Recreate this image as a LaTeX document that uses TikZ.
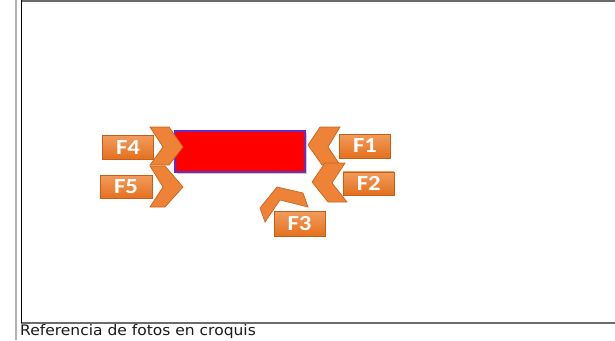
\documentclass[tikz,border=0pt]{standalone}
\usepackage{fontspec}
\setmainfont{DejaVu Sans}
\newfontfamily\lblfont{Carlito}
\definecolor{chevorange}{HTML}{EE8236}
\definecolor{chevedge}{HTML}{C8651E}
\definecolor{lbltop}{HTML}{F29B5C}
\definecolor{lblbot}{HTML}{E4701E}
\definecolor{rectedge}{HTML}{6A2BC0}
\begin{document}
\begin{tikzpicture}[x=1pt,y=-1pt,
  chev/.style={fill=chevorange, draw=chevedge, line width=0.7pt, line join=miter},
  lbl/.style={shading=axis, top color=lbltop, bottom color=lblbot, draw=lblbot!85!black, line width=0.3pt,
    minimum width=51pt, minimum height=24pt, inner sep=0pt, text=white,
    font=\lblfont\bfseries\fontsize{21.5}{21.5}\selectfont},
  frameline/.style={line width=2pt, draw=gray!85!black},
]
\useasboundingbox (0,0) rectangle (615,340);
% page margins / frame
\draw[line width=2pt, draw=black!30] (16,0) -- (16,340);
\draw[frameline] (21,1) -- (615,1);
\draw[frameline] (21,323) -- (615,323);
\draw[line width=1.3pt, black] (21.5,0) -- (21.5,323);
% target rectangle
\fill[black!20] (177,133) rectangle (307,174);
\node[draw=rectedge, line width=1.1pt, fill=red, minimum width=130pt, minimum height=41pt, inner sep=0pt] (target) at (240,151.5) {};
% left labels
\node[lbl] (f4) at (128,147.5) {\scalebox{1.15}[1]{F4}};
\node[lbl, minimum width=52pt, minimum height=23pt] (f5) at (126,187) {\scalebox{1.15}[1]{F5}};
% left chevrons
\draw[chev] (150,127) -- (169,127) -- (183,147) -- (169,165) -- (150,165) -- (163,147) -- cycle;
\draw[chev] (150,166) -- (165,166) -- (183,187) -- (165,207) -- (150,207) -- (163,187) -- cycle;
% right chevrons
\draw[chev] (320,127) -- (340,127) -- (328,147) -- (340,165) -- (322,165) -- (308,145) -- cycle;
\draw[chev] (325,163) -- (345,163) -- (332,183) -- (347,202) -- (328,202) -- (312,182) -- cycle;
\draw[chev] (277,187) -- (303,193) -- (308,207) -- (280,200) -- (265,222) -- (260,208) -- cycle;
% right labels
\node[lbl] (f1) at (365,146) {\scalebox{1.15}[1]{F1}};
\node[lbl, minimum height=23pt] (f2) at (368.7,183.3) {\scalebox{1.15}[1]{F2}};
\node[lbl, minimum height=25pt] (f3) at (299.5,224) {\scalebox{1.15}[1]{F3}};
% caption
\node[anchor=base west, inner sep=0pt, font=\fontsize{14.5}{14.5}\selectfont, text=black!90] (caption) at (20,335.5) {\scalebox{1.07}[1]{Referencia de fotos en croquis}};
\end{tikzpicture}
\end{document}
